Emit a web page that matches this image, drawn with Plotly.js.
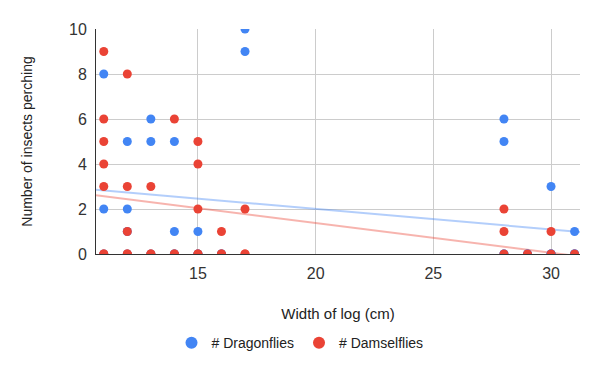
<!DOCTYPE html>
<html>
<head>
<meta charset="utf-8">
<script src="https://cdn.plot.ly/plotly-3.0.1.min.js"></script>
<style>html,body{margin:0;padding:0;background:#fff;}#chart{width:600px;height:371px;}</style>
</head>
<body>
<div id="chart"></div>
<script>
// Data (some points are hidden beneath others)
const dragonWidth = [11,11,11, 12,12,12,12, 13,13,13, 14,14,14,14, 15,15,15, 16,16, 17,17, 28,28,28,28, 29,29, 30,30,30,30, 31,31,31,31];
const dragonCount = [8,2,0,   5,2,1,0,     6,5,0,    5,1,0,0,     1,0,0,    0,0,   10,9,  6,5,0,0,     0,0,   3,0,0,0,     1,0,0,0];
const damselWidth = [11,11,11,11,11,11,11, 12,12,12,12,12, 13,13,13, 14,14,14, 15,15,15,15,15, 16,16,16, 17,17,17, 28,28,28, 29, 30,30, 31];
const damselCount = [9,6,5,4,3,0,0,        8,3,1,0,0,      3,0,0,    6,0,0,    5,4,2,0,0,      1,0,0,    2,0,0,    2,1,0,    0,  1,0,   0];
const seriesNames = ['# Dragonflies', '# Damselflies'];
const seriesColors = ['#4285F4', '#EA4335'];
const xTitle = 'Width of log (cm)';
const yTitle = 'Number of insects perching';

const X_RANGE = [10.67, 31.23];
const Y_RANGE = [0, 10];

function linFit(xs, ys) {
  const n = xs.length;
  let sx = 0, sy = 0, sxy = 0, sxx = 0;
  for (let i = 0; i < n; i++) { sx += xs[i]; sy += ys[i]; sxy += xs[i]*ys[i]; sxx += xs[i]*xs[i]; }
  const b = (n*sxy - sx*sy) / (n*sxx - sx*sx);
  const a = (sy - b*sx) / n;
  return {a, b};
}
function trend(xs, ys, color) {
  const f = linFit(xs, ys);
  return {
    type: 'scatter', mode: 'lines', x: X_RANGE.slice(), y: X_RANGE.map(v => f.a + f.b*v),
    line: {color: color, width: 2}, opacity: 0.4, showlegend: false, hoverinfo: 'skip'
  };
}

const font = 'Liberation Sans, Arial, sans-serif';
const data = [
  trend(dragonWidth, dragonCount, seriesColors[0]),
  trend(damselWidth, damselCount, seriesColors[1]),
  {type: 'scatter', mode: 'markers', name: seriesNames[0], x: dragonWidth, y: dragonCount,
   marker: {color: seriesColors[0], size: 9}},
  {type: 'scatter', mode: 'markers', name: seriesNames[1], x: damselWidth, y: damselCount,
   marker: {color: seriesColors[1], size: 9}}
];

const layout = {
  width: 600, height: 371,
  margin: {l: 96, r: 20, t: 29, b: 117},
  paper_bgcolor: '#fff', plot_bgcolor: '#fff',
  font: {family: font, size: 14, color: '#222'},
  showlegend: true,
  legend: {orientation: 'h', x: 0.4215, xanchor: 'center', y: -0.396, yanchor: 'middle',
           font: {family: font, size: 14, color: '#222'}, itemsizing: 'constant', traceorder: 'normal'},
  xaxis: {range: X_RANGE, dtick: 5, tick0: 0, showgrid: true, gridcolor: '#cccccc', gridwidth: 1,
          zeroline: false, showline: true, linecolor: '#333', linewidth: 1, ticks: '',
          tickfont: {family: font, size: 16, color: '#333'}, ticklabelstandoff: 5,
          title: {text: xTitle, font: {family: font, size: 15, color: '#222'}, standoff: 27}, automargin: true},
  yaxis: {range: Y_RANGE, dtick: 2, tick0: 0, showgrid: true, gridcolor: '#cccccc', gridwidth: 1,
          zeroline: false, showline: true, linecolor: '#333', linewidth: 1, ticks: '',
          tickfont: {family: font, size: 16, color: '#333'}, ticklabelstandoff: 5,
          title: {text: yTitle, font: {family: font, size: 14, color: '#222'}, standoff: 33}, automargin: true}
};

Plotly.newPlot('chart', data, layout, {staticPlot: true, displayModeBar: false});
</script>
</body>
</html>
